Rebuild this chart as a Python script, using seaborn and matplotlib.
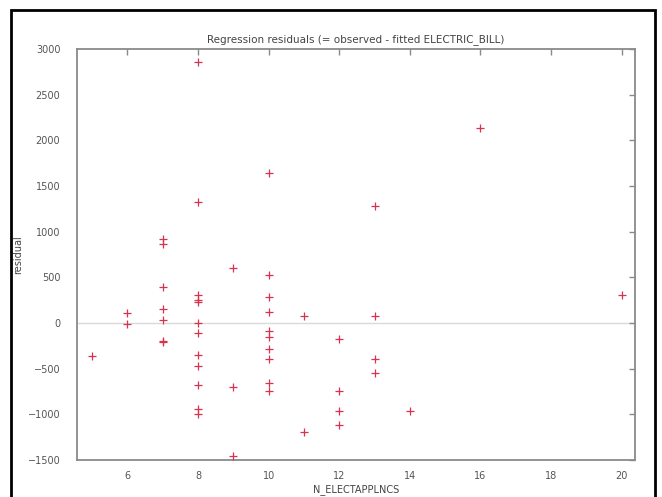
import matplotlib
matplotlib.use("Agg")
import matplotlib.pyplot as plt
import seaborn as sns
import pandas as pd
from matplotlib.patches import Rectangle

# residuals grouped by number of appliances
n_appl = [5,
          6, 6,
          7, 7, 7, 7, 7, 7, 7,
          8, 8, 8, 8, 8, 8, 8, 8, 8, 8, 8, 8,
          9, 9, 9,
          10, 10, 10, 10, 10, 10, 10, 10, 10, 10,
          11, 11,
          12, 12, 12, 12,
          13, 13, 13, 13,
          14,
          16,
          20]
residual = [-366,
            105, -15,
            921, 866, 395, 155, 33, -195, -210,
            2855, 1322, 310, 252, 225, 0, -112, -345, -468, -680, -943, -991,
            603, -706, -1455,
            1641, 526, 288, 116, -84, -158, -285, -395, -662, -742,
            72, -1190,
            -175, -742, -961, -1115,
            1279, 72, -395, -552,
            -961,
            2134,
            310]

x_ticks = [6, 8, 10, 12, 14, 16, 18, 20]
y_ticks = [-1500, -1000, -500, 0, 500, 1000, 1500, 2000, 2500, 3000]

df = pd.DataFrame({"N_ELECTAPPLNCS": n_appl, "residual": residual})

sns.set_style("white")
plt.rcParams['font.family'] = ['DejaVu Sans']

fig = plt.figure(figsize=(6.62, 4.97), dpi=100)
ax = fig.add_axes([77/662, 37/497, 558/662, 411/497])

ax.axhline(0, color='#dadada', lw=1, zorder=0)
sns.scatterplot(data=df, x="N_ELECTAPPLNCS", y="residual", ax=ax,
                marker='+', color='#d9324e', s=30, linewidth=0.9, zorder=3)

ax.set_xlim(4.57, 20.38)
ax.set_ylim(-1500, 3000)
ax.set_xticks(x_ticks)
ax.set_yticks(y_ticks)

for sp in ax.spines.values():
    sp.set_color('#8a8a8a')
    sp.set_linewidth(1.3)
ax.tick_params(direction='in', length=4, width=1, color='#8a8a8a',
               top=True, right=True, labelsize=7, labelcolor='#555555')
ax.tick_params(axis='y', pad=12)
ax.tick_params(axis='x', pad=8)

ax.set_title("Regression residuals (= observed - fitted ELECTRIC_BILL)",
             fontsize=7.5, color='#444444', pad=5)
ax.set_xlabel("N_ELECTAPPLNCS", fontsize=7, color='#444444', labelpad=2)
ax.set_ylabel("residual", fontsize=7, color='#444444')
ax.yaxis.set_label_coords(-0.097, 0.5)

# black frame around the picture
fig.patches.append(Rectangle((11/662, -0.05), 644/662, 1.05 - 10/497,
                             transform=fig.transFigure, fill=False,
                             edgecolor='black', lw=2))

fig.savefig("out.png", dpi=100, facecolor='white')
